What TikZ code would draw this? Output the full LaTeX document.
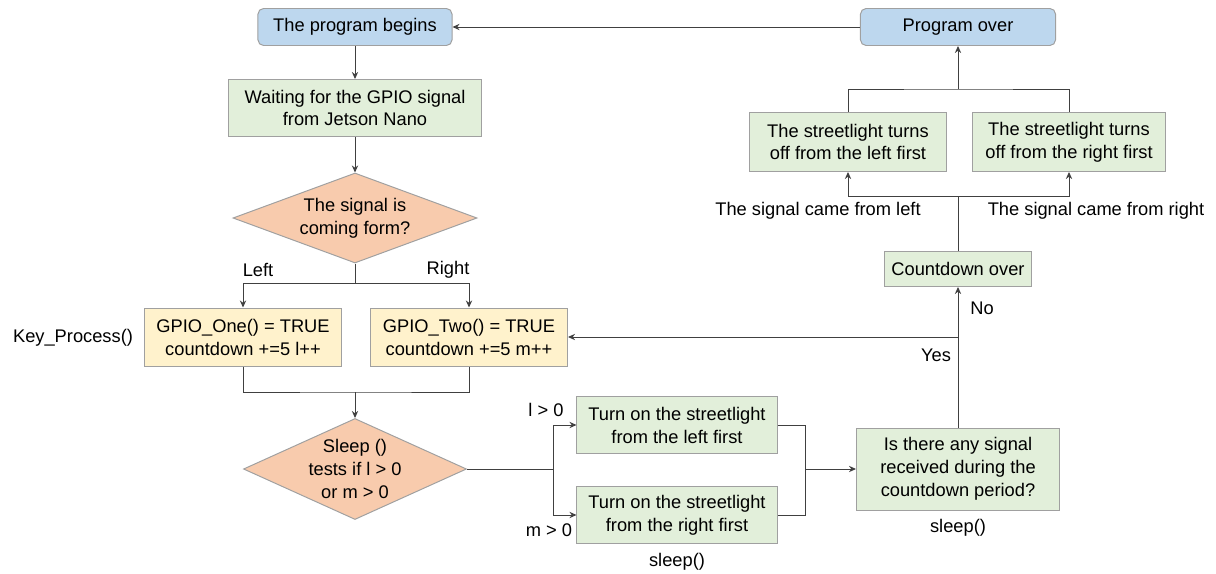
\documentclass[tikz,border=0pt]{standalone}
\usepackage{fontspec}
\setmainfont{Liberation Sans}
\usetikzlibrary{shapes.geometric, arrows.meta}
\definecolor{bluebox}{HTML}{BDD7EE}
\definecolor{greenbox}{HTML}{E2EFDA}
\definecolor{yellowbox}{HTML}{FFF2CC}
\definecolor{orangebox}{HTML}{F8CBAD}
\definecolor{edgegray}{HTML}{A0A0A0}
\definecolor{linegray}{HTML}{404040}
\begin{document}
\begin{tikzpicture}[x=0.025cm, y=-0.025cm, font=\fontsize{13}{16.3}\selectfont,
  box/.style={draw=edgegray, line width=0.7pt, fill=#1, align=center, inner sep=2pt},
  rbox/.style={box=#1, rounded corners=4pt},
  dec/.style={diamond, draw=edgegray, line width=0.7pt, fill=orangebox, align=center, inner sep=0pt, aspect=2.4},
  arr/.style={->, >={Stealth[length=5pt, width=4.5pt]}, draw=linegray, line width=0.7pt},
  ln/.style={draw=linegray, line width=0.7pt}
]
  \useasboundingbox (0,0) rectangle (1216,573);
  \node[rbox=bluebox, minimum width=4.85cm, minimum height=0.925cm] (begin) at (355,27) {The program begins};
  \node[rbox=bluebox, minimum width=4.875cm, minimum height=0.925cm] (over) at (958,27) {Program over};
  \node[box=greenbox, minimum width=6.3cm, minimum height=1.425cm] (wait) at (355,108) {Waiting for the GPIO signal\\from Jetson Nano};
  \node[dec, minimum width=6.1cm, minimum height=2.25cm] (sig) at (355,218) {The signal is\\coming form?};
  \node[box=yellowbox, minimum width=4.925cm, minimum height=1.45cm] (gpio1) at (243,337) {GPIO\_One() = TRUE\\countdown +=5 l++};
  \node[box=yellowbox, minimum width=4.925cm, minimum height=1.45cm] (gpio2) at (469,337) {GPIO\_Two() = TRUE\\countdown +=5 m++};
  \node[dec, inner sep=-5pt, minimum width=5.575cm, minimum height=2.525cm] (sleep) at (355,469) {Sleep ()\\tests if l > 0\\or m > 0};
  \node[box=greenbox, minimum width=5cm, minimum height=1.425cm] (onleft) at (677,425) {Turn on the streetlight\\from the left first};
  \node[box=greenbox, minimum width=5cm, minimum height=1.425cm] (onright) at (677,515) {Turn on the streetlight\\from the right first};
  \node[box=greenbox, minimum width=5.075cm, minimum height=2.05cm] (query) at (958,469) {Is there any signal\\received during the\\countdown period?};
  \node[box=greenbox, minimum width=3.675cm, minimum height=0.875cm] (cdover) at (958,269) {Countdown over};
  \node[box=greenbox, minimum width=4.925cm, minimum height=1.475cm] (offleft) at (848,142) {The streetlight turns\\off from the left first};
  \node[box=greenbox, minimum width=4.825cm, minimum height=1.475cm] (offright) at (1069,142) {The streetlight turns\\off from the right first};
  % labels
  \node (lleft)  at (258,270) {Left};
  \node (lright) at (448,270) {Right};
  \node (lkey)   at (73,338)  {Key\_Process()};
  \node (lgt)    at (546,410) {l > 0};
  \node (mgt)    at (549,530) {m > 0};
  \node (lsleep) at (677,562) {sleep()};
  \node (qsleep) at (958,528) {sleep()};
  \node (lyes)   at (936,355) {Yes};
  \node (lno)    at (982,308) {No};
  \node (cleft)  at (818,211) {The signal came from left};
  \node (cright) at (1096,211) {The signal came from right};
  % junctions
  \coordinate (split) at (355,283);
  \coordinate (merge) at (355,392);
  \coordinate (fork)  at (553,469);
  \coordinate (join)  at (805,469);
  \coordinate (yes)   at (958,337);
  \coordinate (split2) at (958,196);
  \coordinate (merge2) at (958,89);
  \draw[arr] (over) -- (begin);
  \draw[arr] (begin) -- (wait);
  \draw[arr] (wait) -- (sig);
  \draw[ln] (sig.south) -- (split);
  \draw[arr] (split) -| (gpio1.north);
  \draw[arr] (split) -| (gpio2.north);
  \draw[ln] (gpio1.south) |- (merge) -| (gpio2.south);
  \draw[arr] (merge) -- (sleep.north);
  \draw[ln] (sleep.east) -- (fork);
  \draw[arr] (fork) |- (onleft.west);
  \draw[arr] (fork) |- (onright.west);
  \draw[ln] (onleft.east) -| (join) |- (onright.east);
  \draw[arr] (join) -- (query.west);
  \draw[arr] (query.north) -- (cdover.south);
  \draw[arr] (yes) -- (gpio2.east);
  \draw[ln] (cdover.north) -- (split2);
  \draw[arr] (split2) -| (offleft.south);
  \draw[arr] (split2) -| (offright.south);
  \draw[ln] (offleft.north) |- (merge2) -| (offright.north);
  \draw[arr] (merge2) -- (over.south);
\end{tikzpicture}
\end{document}
